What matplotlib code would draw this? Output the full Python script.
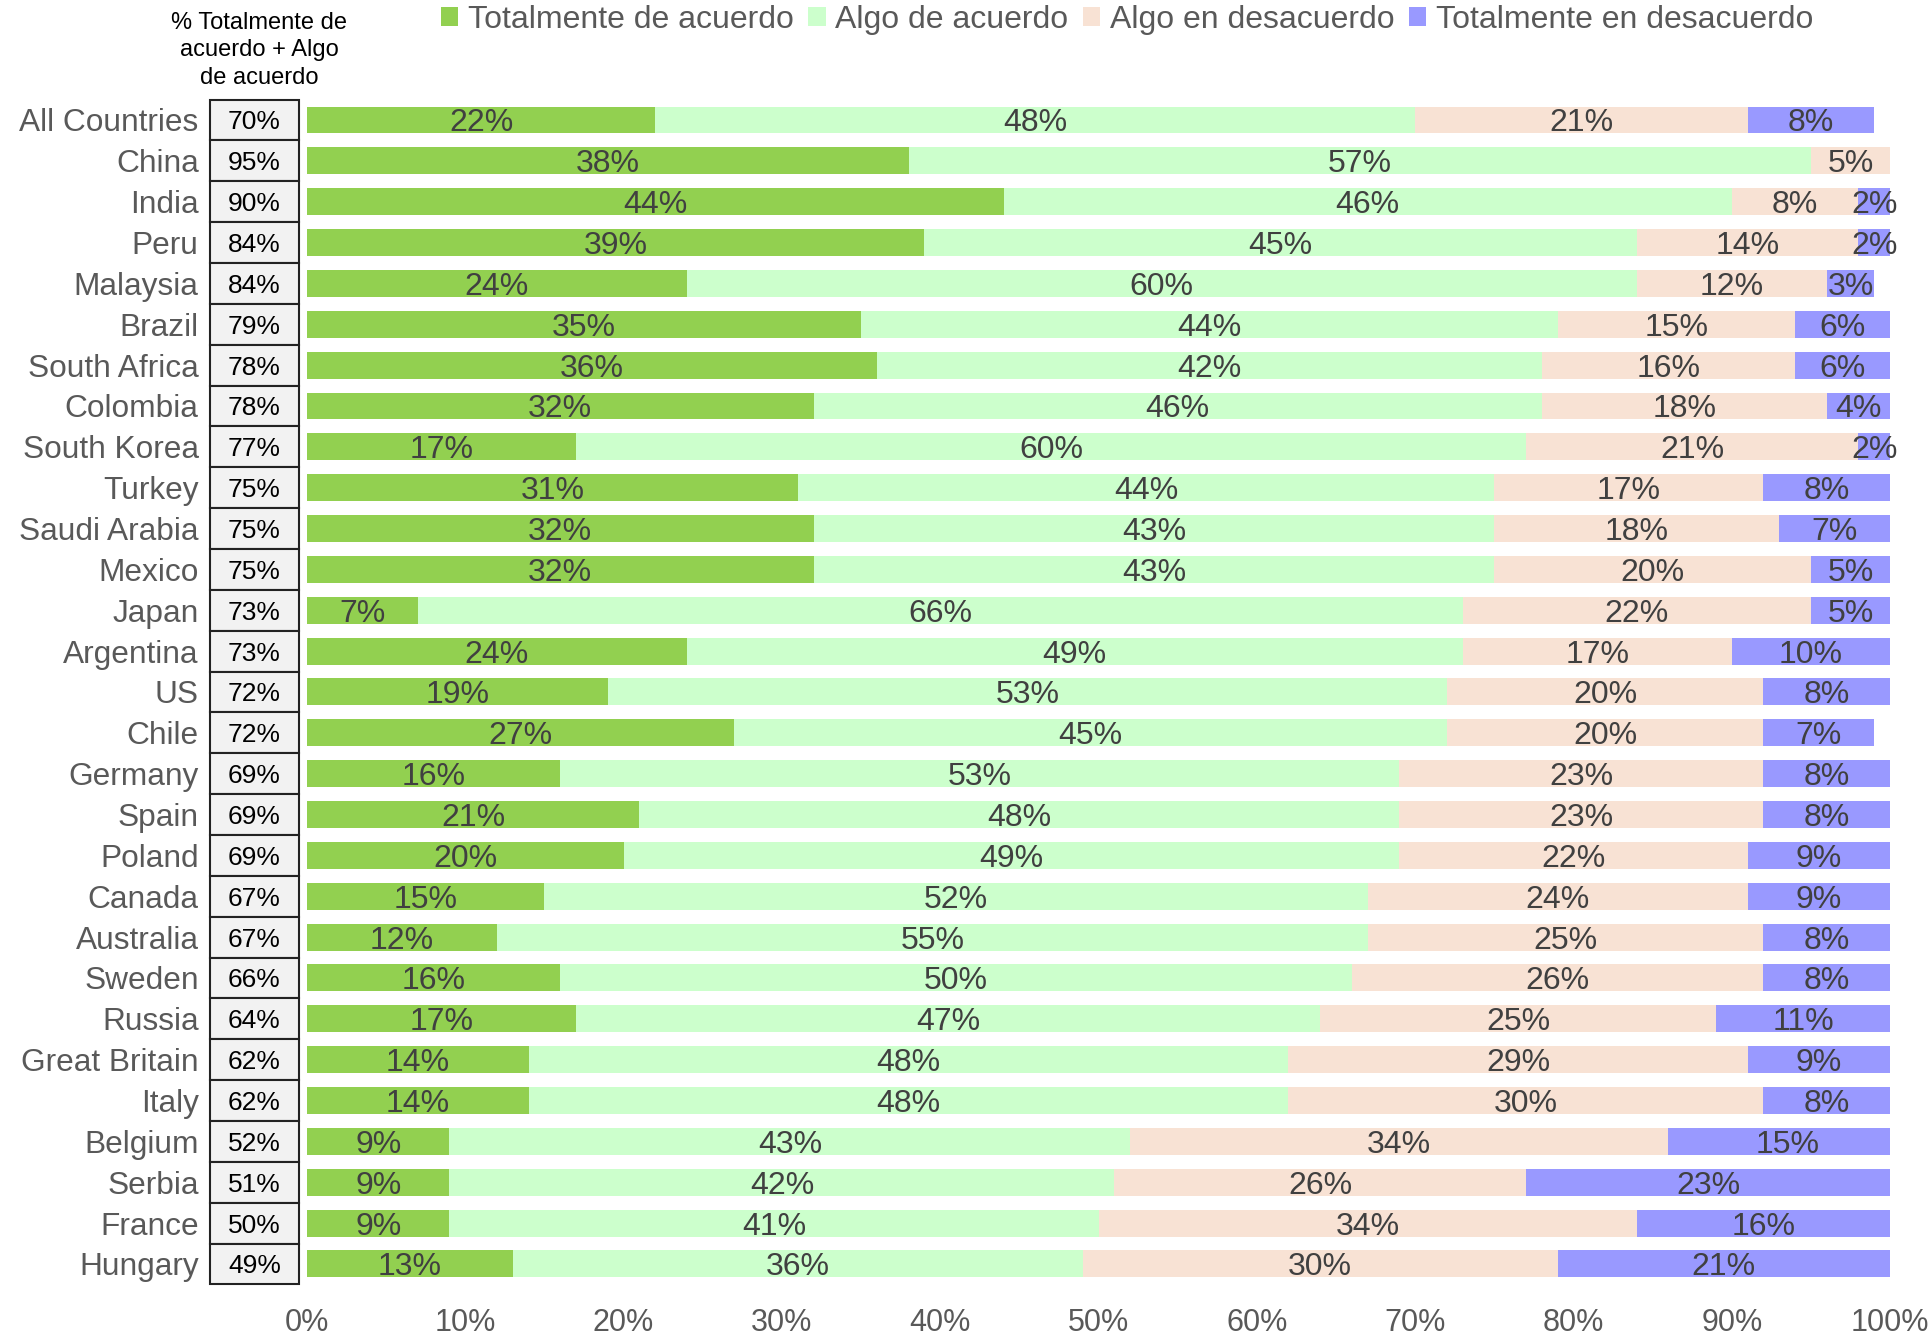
import matplotlib
matplotlib.use('Agg')
import matplotlib.pyplot as plt
from matplotlib.patches import Rectangle
from matplotlib.transforms import blended_transform_factory

plt.rcParams['font.family'] = ['Liberation Sans', 'DejaVu Sans']

countries = ['All Countries', 'China', 'India', 'Peru', 'Malaysia', 'Brazil', 'South Africa',
             'Colombia', 'South Korea', 'Turkey', 'Saudi Arabia', 'Mexico', 'Japan', 'Argentina',
             'US', 'Chile', 'Germany', 'Spain', 'Poland', 'Canada', 'Australia', 'Sweden',
             'Russia', 'Great Britain', 'Italy', 'Belgium', 'Serbia', 'France', 'Hungary']
tot_acuerdo = [22, 38, 44, 39, 24, 35, 36, 32, 17, 31, 32, 32, 7, 24, 19, 27, 16, 21, 20, 15,
               12, 16, 17, 14, 14, 9, 9, 9, 13]
algo_acuerdo = [48, 57, 46, 45, 60, 44, 42, 46, 60, 44, 43, 43, 66, 49, 53, 45, 53, 48, 49, 52,
                55, 50, 47, 48, 48, 43, 42, 41, 36]
algo_desacuerdo = [21, 5, 8, 14, 12, 15, 16, 18, 21, 17, 18, 20, 22, 17, 20, 20, 23, 23, 22, 24,
                   25, 26, 25, 29, 30, 34, 26, 34, 30]
tot_desacuerdo = [8, 0, 2, 2, 3, 6, 6, 4, 2, 8, 7, 5, 5, 10, 8, 7, 8, 8, 9, 9, 8, 8, 11, 9, 8,
                  15, 23, 16, 21]
acuerdo_total = [70, 95, 90, 84, 84, 79, 78, 78, 77, 75, 75, 75, 73, 73, 72, 72, 69, 69, 69, 67,
                 67, 66, 64, 62, 62, 52, 51, 50, 49]

series = [
    ('Totalmente de acuerdo', tot_acuerdo, '#92d050'),
    ('Algo de acuerdo', algo_acuerdo, '#ccffcc'),
    ('Algo en desacuerdo', algo_desacuerdo, '#f8e2d4'),
    ('Totalmente en desacuerdo', tot_desacuerdo, '#9999ff'),
]

fig = plt.figure(figsize=(19.33, 13.40), dpi=100)
ax = fig.add_axes([0.1588, 0.0415, 0.819, 0.8842])

y = list(range(len(countries)))
left = [0] * len(countries)
for name, vals, color in series:
    ax.barh(y, vals, left=left, height=0.66, color=color, label=name)
    for i, v in enumerate(vals):
        if v > 0:
            ax.text(left[i] + v / 2, i, f'{v}%', ha='center', va='center_baseline',
                    fontsize=23, color='#404040')
    left = [l + v for l, v in zip(left, vals)]

ax.set_xlim(0, 100)
ax.set_ylim(len(countries) - 0.5, -0.5)
ax.set_yticks(y)
ax.set_yticklabels(countries, fontsize=22.8, color='#595959')
ax.set_xticks(range(0, 101, 10))
ax.set_xticklabels([f'{t}%' for t in range(0, 101, 10)], fontsize=22, color='#595959')
ax.tick_params(axis='y', length=0, pad=78)
ax.tick_params(axis='x', length=0, pad=17)
for s in ax.spines.values():
    s.set_visible(False)

# side column with combined agreement
trans = blended_transform_factory(ax.transAxes, ax.transData)
for i, v in enumerate(acuerdo_total):
    ax.add_patch(Rectangle((-0.0613, i - 0.5), 0.0562, 1.0, transform=trans,
                           facecolor='#f2f2f2', edgecolor='#222222', lw=1.5, clip_on=False))
    ax.text(-0.0332, i, f'{v}%', transform=trans, ha='center', va='center_baseline',
            fontsize=19, color='black')

fig.text(0.134, 0.9625, '% Totalmente de\nacuerdo + Algo\nde acuerdo', ha='center', va='center',
         fontsize=17, color='black', linespacing=1.32)

fig.legend(loc='center', bbox_to_anchor=(0.583, 0.985), ncol=4, frameon=False,
           fontsize=23, labelcolor='#595959', handlelength=0.55, handleheight=0.55,
           handletextpad=0.3, columnspacing=0.45, borderaxespad=0)

plt.savefig('out.png', dpi=100)
plt.close()
